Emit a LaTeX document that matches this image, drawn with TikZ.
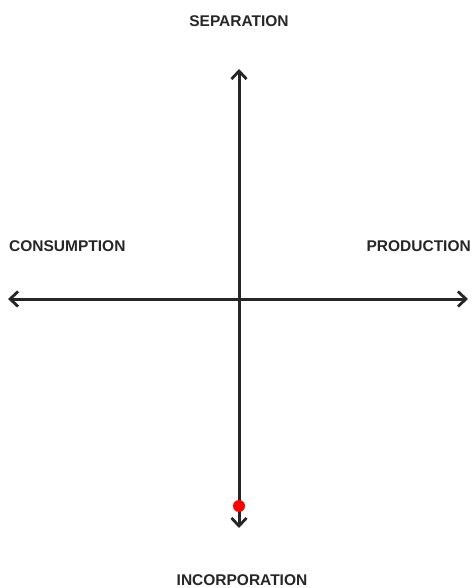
\documentclass[tikz,border=0pt]{standalone}
\usepackage{fontspec}
\setmainfont{Liberation Sans}
\usetikzlibrary{arrows.meta}
\definecolor{ink}{HTML}{262626}
\begin{document}
\begin{tikzpicture}[x=1pt,y=-1pt,
  axis/.style={draw=ink,line width=3pt,{Straight Barb[length=8pt,width=15pt,line width=2.8pt]}-{Straight Barb[length=8pt,width=15pt,line width=2.8pt]}},
  lbl/.style={text=ink,font=\fontsize{15.5}{17}\selectfont\bfseries,inner sep=0pt}]
\useasboundingbox (0,0) rectangle (473,588);
\coordinate (top) at (239,69);
\coordinate (bot) at (239,528);
\coordinate (left) at (8,299);
\coordinate (right) at (468,299);
\draw[axis] (bot) -- (top);
\draw[axis] (left) -- (right);
\node[circle,fill=red,inner sep=0pt,minimum size=12pt] (dot) at (239,506) {};
\node[lbl] (sep) at (239,21) {SEPARATION};
\node[lbl,anchor=west] (con) at (9,246) {CONSUMPTION};
\node[lbl,anchor=east] (pro) at (471,246) {PRODUCTION};
\node[lbl] (inc) at (242,580) {INCORPORATION};
\end{tikzpicture}
\end{document}
